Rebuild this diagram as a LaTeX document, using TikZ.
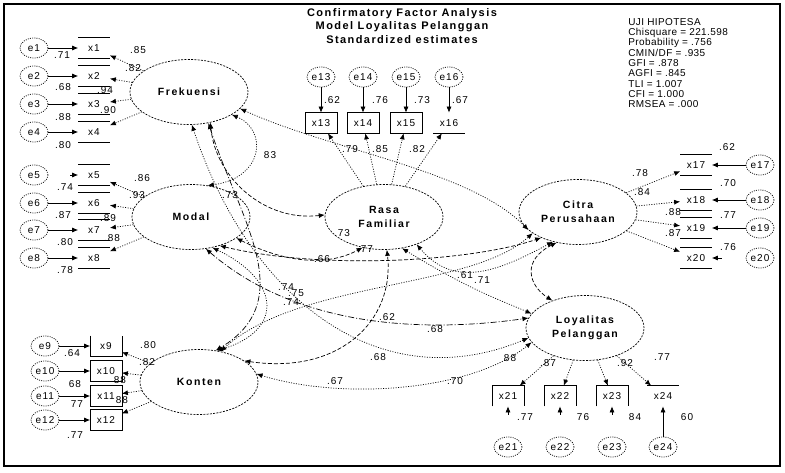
\documentclass[tikz,border=0pt]{standalone}
\usepackage{fontspec}
\setmainfont{Liberation Sans}
\newfontfamily\numf[LetterSpace=10]{Liberation Sans}
\newfontfamily\latf[LetterSpace=15]{Liberation Sans}
\newfontfamily\titf[LetterSpace=13]{Liberation Sans}
\newfontfamily\fitf[LetterSpace=4]{Liberation Sans}
\usetikzlibrary{arrows.meta,shapes.geometric}
\begin{document}
\begin{tikzpicture}[x=1pt,y=-1pt,line width=0.7pt,
  >={Latex[length=6pt,width=5pt]},
  lat/.style={ellipse,draw,dash pattern=on 2pt off 1.3pt,minimum width=118pt,minimum height=65pt,inner sep=0pt,
    font=\latf\bfseries\fontsize{10.5}{14}\selectfont,align=center},
  err/.style={ellipse,draw,dash pattern=on 1pt off 1.2pt,minimum width=28pt,minimum height=20pt,inner sep=0pt,
    font=\numf\fontsize{10}{12}\selectfont},
  ind/.style={rectangle,minimum width=31pt,minimum height=20pt,inner sep=0pt,font=\numf\fontsize{10}{12}\selectfont},
  lbl/.style={font=\numf\fontsize{10}{12}\selectfont,inner sep=0pt},
  load/.style={->,dash pattern=on 1pt off 1.5pt},
  errarr/.style={->},
  cov/.style={<->,dash pattern=on 1pt off 1.5pt},
  covd/.style={<->,dash pattern=on 4pt off 2pt},
  covl/.style={<->,dash pattern=on 6pt off 2pt on 1pt off 2pt},
]
\useasboundingbox (0,0) rectangle (785,473);
\draw[line width=2.6pt] (4,4) rectangle (780,466);

% title
\node[font=\titf\bfseries\fontsize{11}{13.5}\selectfont,align=center,inner sep=0pt] (title) at (402,26)
  {Confirmatory Factor Analysis\\Model Loyalitas Pelanggan\\Standardized estimates};
% fit indices
\node[font=\fitf\fontsize{10}{10.3}\selectfont,align=left,inner sep=0pt,anchor=north west] (fit) at (628,18)
  {UJI HIPOTESA\\Chisquare = 221.598\\Probability = .756\\CMIN/DF = .935\\GFI = .878\\AGFI = .845\\TLI = 1.007\\CFI = 1.000\\RMSEA = .000};

% latent variables
\node[lat] (F) at (189,92) {Frekuensi};
\node[lat] (M) at (191,217) {Modal};
\node[lat] (K) at (199,382) {Konten};
\node[lat] (R) at (384,217) {Rasa\\Familiar};
\node[lat] (C) at (578,212) {Citra\\Perusahaan};
\node[lat] (L) at (585,328) {Loyalitas\\Pelanggan};

% indicators and errors: Frekuensi
\foreach \i/\y in {1/48,2/76,3/104,4/132}{
  \node[ind] (x\i) at (94,\y) {x\i};
  \node[err] (e\i) at (34,\y) {e\i};
}
% Modal
\foreach \i/\y in {5/175,6/203,7/230,8/258}{
  \node[ind] (x\i) at (94,\y) {x\i};
  \node[err] (e\i) at (34,\y) {e\i};
}
% Konten
\foreach \i/\y in {9/346,10/371,11/396,12/420}{
  \node[ind] (x\i) at (106,\y) {x\i};
  \node[err] (e\i) at (45,\y) {e\i};
}
% Rasa
\foreach \i/\x in {13/321,14/363,15/406,16/449}{
  \node[ind] (x\i) at (\x,123) {x\i};
  \node[err] (e\i) at (\x,77) {e\i};
}
% Citra
\foreach \i/\y in {17/165,18/200,19/228,20/258}{
  \node[ind] (x\i) at (696,\y) {x\i};
  \node[err] (e\i) at (760,\y) {e\i};
}
% Loyalitas
\foreach \i/\x in {21/508,22/560,23/612,24/663}{
  \node[ind] (x\i) at (\x,396) {x\i};
  \node[err] (e\i) at (\x,447) {e\i};
}

% box outlines as rendered
\foreach \i in {1,...,8,17,18,19,20}{
  \draw (x\i.north west) -- (x\i.north east);
  \draw (x\i.south west) -- (x\i.south east);
}
\draw (x9.north west) -- (x9.south west) -- (x9.south east) -- (x9.north east);
\foreach \i in {10,...,15}{ \draw (x\i.north west) rectangle (x\i.south east); }
\draw (x16.south west) -- (x16.south east);
\foreach \i in {21,22,23}{ \draw (x\i.south west) -- (x\i.north west) -- (x\i.north east) -- (x\i.south east); }
\draw (x24.north west) -- (x24.north east);

% error arrows
\foreach \i in {1,2,3,4,6,7,8,9,10,11,12,13,14,15,16,17,18,19,24}{ \draw[errarr] (e\i) -- (x\i); }
\draw[errarr,shorten <=22pt] (e5) -- (x5);
\draw[errarr,shorten <=24pt] (e20) -- (x20);
\foreach \i in {21,22,23}{ \draw[errarr,shorten <=22pt] (e\i) -- (x\i); }

% loadings
\foreach \i in {1,2,3,4}{ \draw[load] (F) -- (x\i); }
\foreach \i in {5,6,7,8}{ \draw[load] (M) -- (x\i); }
\foreach \i in {9,10,11,12}{ \draw[load] (K) -- (x\i); }
\foreach \i in {13,14,15,16}{ \draw[load] (R) -- (x\i); }
\foreach \i in {17,18,19,20}{ \draw[load] (C) -- (x\i); }
\foreach \i in {21,22,23,24}{ \draw[load] (L) -- (x\i); }

% covariances
\draw[cov]  (F.-28) .. controls (268,130) and (264,178) .. (M.62);
\draw[covd] (F.-55) .. controls (215,175) and (262,222) .. (R.178);
\draw[covl] (F.-58) .. controls (240,220) and (300,300) .. (K.62);
\draw[cov]  (F.-18) .. controls (330,150) and (470,170) .. (C.200);
\draw[cov]  (F.-85) .. controls (250,300) and (380,400) .. (L.190);
\draw[cov]  (M.-55) .. controls (280,280) and (285,330) .. (K.60);
\draw[covd] (M.-25) .. controls (290,265) and (330,265) .. (R.-125);
\draw[covd] (M.-45) .. controls (320,270) and (470,262) .. (C.215);
\draw[covl] (M.-65) .. controls (300,330) and (430,332) .. (L.170);
\draw[covd] (K.25)  .. controls (340,375) and (395,320) .. (R.-85);
\draw[cov]  (K.55)  .. controls (300,280) and (470,290) .. (C.205);
\draw[cov]  (K.8)   .. controls (340,400) and (470,392) .. (L.195);
\draw[cov]  (R.-40) .. controls (455,290) and (500,270) .. (C.230);
\draw[cov]  (R.-60) .. controls (470,290) and (500,300) .. (L.165);
\draw[covd] (C.235) .. controls (522,260) and (528,285) .. (L.140);

% labels: Frekuensi
\node[lbl] (l1) at (62,55) {.71};
\node[lbl] (l2) at (63,87) {.68};
\node[lbl] (l3) at (63,117) {.88};
\node[lbl] (l4) at (63,145) {.80};
\node[lbl] (l5) at (138,50) {.85};
\node[lbl] (l6) at (133,68) {.82};
\node[lbl] (l7) at (105,90) {.94};
\node[lbl] (l8) at (108,110) {.90};
% Modal
\node[lbl] (l9) at (65,187) {.74};
\node[lbl] (l10) at (63,215) {.87};
\node[lbl] (l11) at (65,242) {.80};
\node[lbl] (l12) at (65,270) {.78};
\node[lbl] (l13) at (142,178) {.86};
\node[lbl] (l14) at (137,195) {.93};
\node[lbl] (l15) at (108,218) {.89};
\node[lbl] (l16) at (112,238) {.88};
% Konten
\node[lbl] (l17) at (72,353) {.64};
\node[lbl] (l18) at (75,384) {68};
\node[lbl] (l19) at (77,404) {77};
\node[lbl] (l20) at (75,435) {.77};
\node[lbl] (l21) at (148,345) {.80};
\node[lbl] (l22) at (147,362) {.82};
\node[lbl] (l23) at (120,380) {88};
\node[lbl] (l24) at (122,400) {88};
% Rasa
\node[lbl] (l25) at (332,100) {.62};
\node[lbl] (l26) at (380,100) {.76};
\node[lbl] (l27) at (422,100) {.73};
\node[lbl] (l28) at (460,100) {.67};
\node[lbl] (l29) at (350,149) {.79};
\node[lbl] (l30) at (380,149) {.85};
\node[lbl] (l31) at (417,149) {.82};
% Citra
\node[lbl] (l32) at (727,147) {.62};
\node[lbl] (l33) at (728,183) {.70};
\node[lbl] (l34) at (728,215) {.77};
\node[lbl] (l35) at (728,247) {.76};
\node[lbl] (l36) at (640,173) {.78};
\node[lbl] (l37) at (642,192) {.84};
\node[lbl] (l38) at (673,212) {.88};
\node[lbl] (l39) at (673,233) {.87};
% Loyalitas
\node[lbl] (l40) at (525,417) {.77};
\node[lbl] (l41) at (583,417) {76};
\node[lbl] (l42) at (635,417) {84};
\node[lbl] (l43) at (687,417) {60};
\node[lbl] (l44) at (510,358) {88};
\node[lbl] (l45) at (548,363) {.87};
\node[lbl] (l46) at (625,363) {.92};
\node[lbl] (l47) at (662,357) {.77};
% covariance labels
\node[lbl] (c1) at (270,155) {83};
\node[lbl] (c2) at (230,195) {.73};
\node[lbl] (c3) at (342,233) {.73};
\node[lbl] (c4) at (365,249) {.77};
\node[lbl] (c5) at (322,259) {.66};
\node[lbl] (c6) at (286,287) {.74};
\node[lbl] (c7) at (296,293) {.75};
\node[lbl] (c8) at (291,302) {.74};
\node[lbl] (c9) at (387,317) {.62};
\node[lbl] (c10) at (435,329) {.68};
\node[lbl] (c11) at (378,357) {.68};
\node[lbl] (c12) at (335,381) {.67};
\node[lbl] (c13) at (455,381) {.70};
\node[lbl] (c14) at (465,275) {.61};
\node[lbl] (c15) at (482,280) {.71};
\end{tikzpicture}
\end{document}
